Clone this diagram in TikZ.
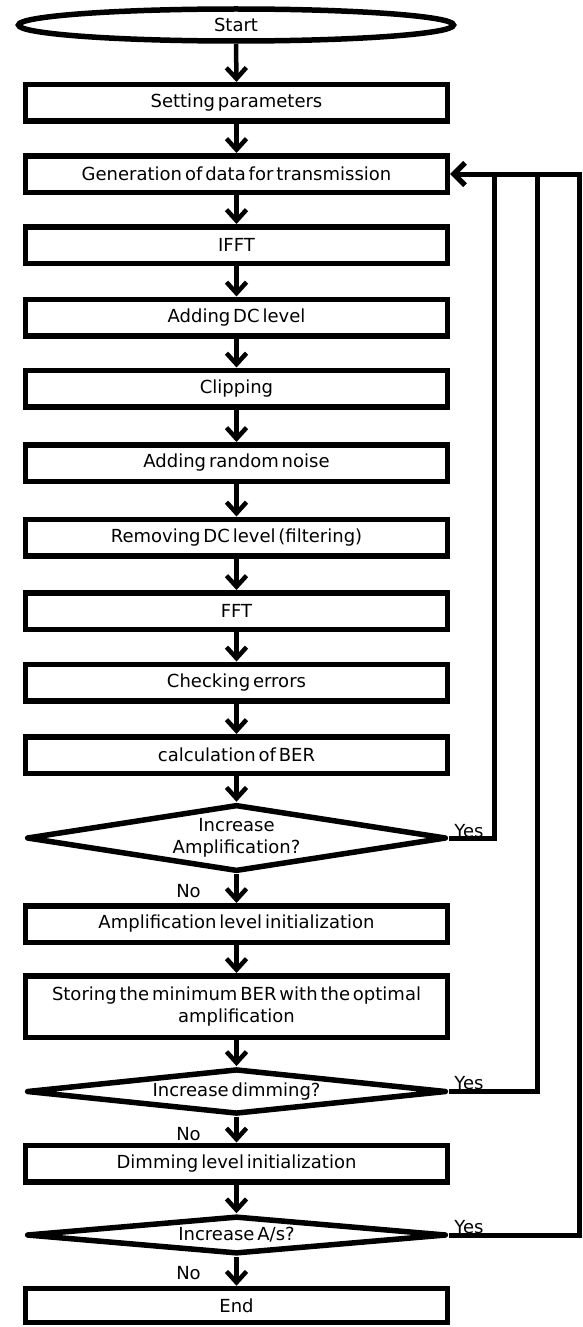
\documentclass[tikz,border=0pt]{standalone}
\usepackage{fontspec}
\setmainfont{DejaVu Sans}
\usetikzlibrary{shapes.geometric,arrows.meta,calc}
\newcommand\flowfont{\fontsize{18}{22}\selectfont\spaceskip 0.16em plus 0.05em minus 0.02em\relax}
\begin{document}
\begin{tikzpicture}[x=1pt,y=-1pt,
  every node/.style={font=\flowfont},
  box/.style={draw, line width=5.5pt, rectangle, minimum width=422pt, minimum height=36.5pt, inner sep=0pt, align=center},
  dec/.style={draw, diamond, line width=5.5pt, line join=round, inner sep=0pt, align=center, shape aspect=6, minimum width=420pt},
  arr/.style={line width=4.5pt, -{Straight Barb[length=11pt,width=20pt]}},
  back/.style={line width=5pt, -{Straight Barb[length=11pt,width=22pt]}},
  lbl/.style={inner sep=0pt}]
\useasboundingbox (0,0) rectangle (582,1327);
\node[draw, ellipse, line width=5.5pt, minimum width=435pt, minimum height=32pt, inner sep=0pt] (start) at (236,25) {Start};
\node[box] (set)  at (236.5,103)   {Setting parameters};
\node[box] (gen)  at (236.5,174)   {Generation of data for transmission};
\node[box] (ifft) at (236.5,245)   {IFFT};
\node[box] (adc)  at (236.5,317.5) {Adding DC level};
\node[box] (clip) at (236.5,388.5) {Clipping};
\node[box] (noise) at (236.5,463)  {Adding random noise};
\node[box] (rdc)  at (236.5,537.5) {Removing DC level (filtering)};
\node[box] (fft)  at (236.5,611)   {FFT};
\node[box] (chk)  at (236.5,682.5) {Checking errors};
\node[box] (ber)  at (236.5,755)   {calculation of BER};
\node[dec, minimum height=67pt] (amp) at (236.5,838) {Increase\\Amplification?};
\node[box] (ampi) at (236.5,924)   {Amplification level initialization};
\node[box, minimum height=61.5pt] (store) at (236.5,1006.5) {Storing the minimum BER with the optimal\\amplification};
\node[dec, minimum height=41pt] (dim) at (236.5,1091.5) {Increase dimming?};
\node[box] (dimi) at (236.5,1163.5) {Dimming level initialization};
\node[dec, minimum height=38pt] (as) at (236.5,1235) {Increase A/s?};
\node[box, minimum height=34pt] (end) at (236.5,1305.5) {End};

\draw[arr] (start.south) -- (set.north);
\draw[arr] (set.south) -- (gen.north);
\draw[arr] (gen.south) -- (ifft.north);
\draw[arr] (ifft.south) -- (adc.north);
\draw[arr] (adc.south) -- (clip.north);
\draw[arr] (clip.south) -- (noise.north);
\draw[arr] (noise.south) -- (rdc.north);
\draw[arr] (rdc.south) -- (fft.north);
\draw[arr] (fft.south) -- (chk.north);
\draw[arr] (chk.south) -- (ber.north);
\draw[arr] (ber.south) -- (amp.north);
\draw[arr] (amp.south) -- (ampi.north);
\draw[arr] (ampi.south) -- (store.north);
\draw[arr] (store.south) -- (dim.north);
\draw[arr] (dim.south) -- (dimi.north);
\draw[arr] (dimi.south) -- (as.north);
\draw[arr] (as.south) -- (end.north);

\coordinate (x1) at (494,0);
\coordinate (x2) at (537,0);
\coordinate (x3) at (579,0);
\draw[back] (amp.east) -- (amp.east -| x1) -- (x1 |- gen.east) -- (gen.east);
\draw[back] (dim.east) -- (dim.east -| x2) -- (x2 |- gen.east) -- (gen.east);
\draw[back] (as.east) -- (as.east -| x3) -- (x3 |- gen.east) -- (gen.east);

\node[lbl, anchor=base west] (y1) at ($(amp.east)+(5,-1)$) {Yes};
\node[lbl, anchor=base west] (y2) at ($(dim.east)+(5,-2)$) {Yes};
\node[lbl, anchor=base west] (y3) at ($(as.east)+(5,-2)$) {Yes};
\node[lbl] (n1) at ($(amp.south)+(-48,17)$) {No};
\node[lbl] (n2) at ($(dim.south)+(-48,17)$) {No};
\node[lbl] (n3) at ($(as.south)+(-48,16)$) {No};
\end{tikzpicture}
\end{document}
